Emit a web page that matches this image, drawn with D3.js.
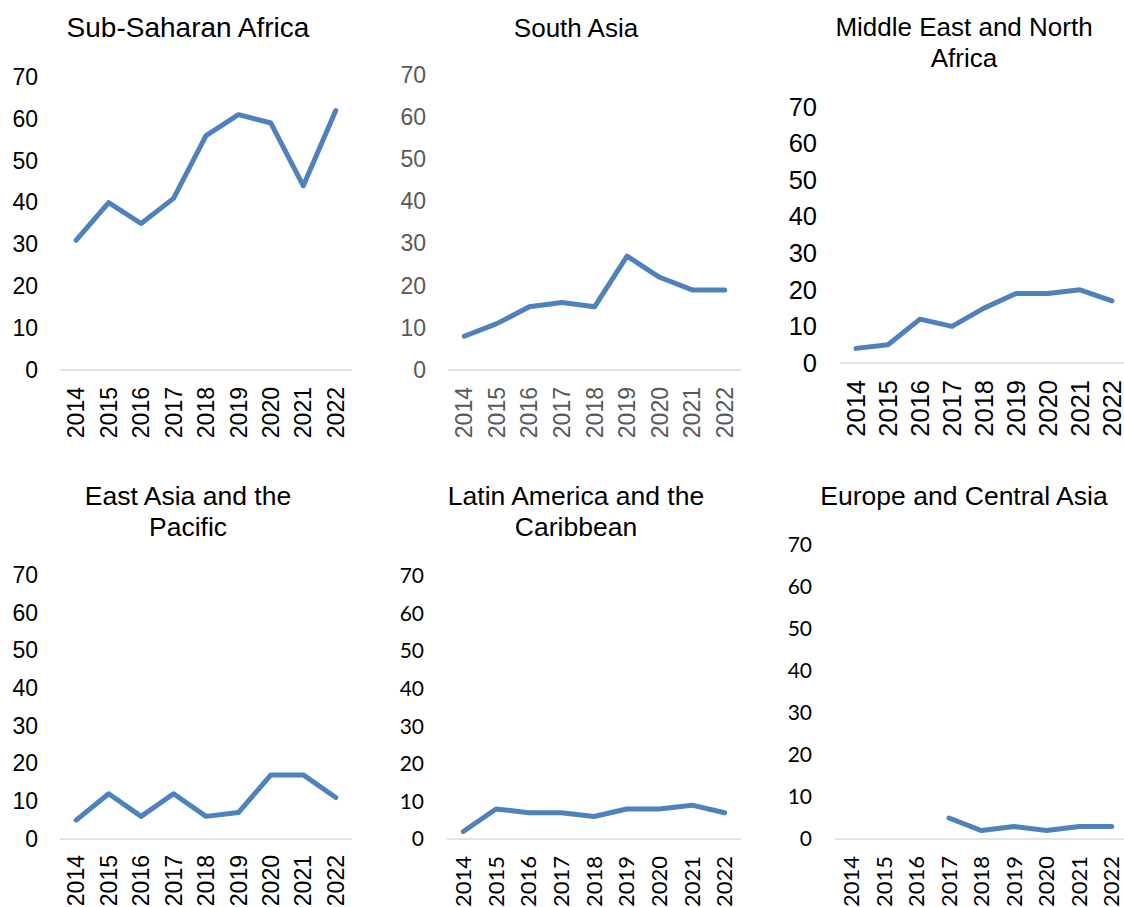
<!DOCTYPE html>
<html>
<head>
<meta charset="utf-8">
<script src="https://cdn.jsdelivr.net/npm/d3@7"></script>
<style>
  body { margin: 0; background: #fff; }
  svg { display: block; }
</style>
</head>
<body>
<script>
// Data
var years = ['2014', '2015', '2016', '2017', '2018', '2019', '2020', '2021', '2022'];
var yTicks = [0, 10, 20, 30, 40, 50, 60, 70];

var subSaharanAfrica   = [31, 40, 35, 41, 56, 61, 59, 44, 62];
var southAsia          = [8, 11, 15, 16, 15, 27, 22, 19, 19];
var middleEastNAfrica  = [4, 5, 12, 10, 15, 19, 19, 20, 17];
var eastAsiaPacific    = [5, 12, 6, 12, 6, 7, 17, 17, 11];
var latinAmericaCarib  = [2, 8, 7, 7, 6, 8, 8, 9, 7];
var europeCentralAsia  = [null, null, null, 5, 2, 3, 2, 3, 3];

var regions = [
    { title: ['Sub-Saharan Africa'], values: subSaharanAfrica },
    { title: ['South Asia'], values: southAsia },
    { title: ['Middle East and North', 'Africa'], values: middleEastNAfrica },
    { title: ['East Asia and the', 'Pacific'], values: eastAsiaPacific },
    { title: ['Latin America and the', 'Caribbean'], values: latinAmericaCarib },
    { title: ['Europe and Central Asia'], values: europeCentralAsia }
];

// Layout of each panel (they are not all alike)
var arial = '"Liberation Sans", Arial, sans-serif',
    calibri = 'Lato, "Open Sans", sans-serif';

var layout = [
    { titleX: 188, titleY: 37, titleSize: 28, left: 60,  right: 352,  zeroY: 370, topY: 77,  tickX: 38,  tickSize: 23, tickFont: arial,   tickColor: '#000', xLabY: 387 },
    { titleX: 576, titleY: 37, titleSize: 26, left: 448, right: 741,  zeroY: 370, topY: 75,  tickX: 426, tickSize: 23, tickFont: arial,   tickColor: '#595959', xLabY: 387 },
    { titleX: 964, titleY: 36, titleSize: 26, left: 840, right: 1128, zeroY: 363, topY: 107, tickX: 817, tickSize: 25.5, tickFont: arial, tickColor: '#000', xLabY: 380 },
    { titleX: 188, titleY: 505, titleSize: 26.5, left: 60, right: 352, zeroY: 839, topY: 575, tickX: 38, tickSize: 23, tickFont: arial, tickColor: '#000', xLabY: 855 },
    { titleX: 576, titleY: 505, titleSize: 26.5, left: 447, right: 741, zeroY: 839, topY: 576, tickX: 424, tickSize: 21, tickFont: calibri, tickColor: '#000', xLabY: 856 },
    { titleX: 964, titleY: 505, titleSize: 26.5, left: 835, right: 1128, zeroY: 839, topY: 545, tickX: 812, tickSize: 21, tickFont: calibri, tickColor: '#000', xLabY: 856 }
];

var lineColor = '#4f81bd';

var svg = d3.select('body').append('svg')
    .attr('width', 1124)
    .attr('height', 907);

regions.forEach(function(r, i) {
    var L = layout[i];
    var g = svg.append('g').attr('class', 'panel');

    var x = d3.scaleBand().domain(years).range([L.left, L.right]).padding(0);
    var y = d3.scaleLinear().domain([0, 70]).range([L.zeroY, L.topY]);

    // Title
    var t = g.append('text')
        .attr('x', L.titleX)
        .attr('y', L.titleY)
        .attr('text-anchor', 'middle')
        .style('font-family', arial)
        .style('font-size', L.titleSize + 'px')
        .style('fill', '#000');
    r.title.forEach(function(line, k) {
        t.append('tspan')
            .attr('x', L.titleX)
            .attr('dy', k === 0 ? 0 : '1.18em')
            .text(line);
    });

    // Y axis (labels only)
    var yAxis = g.append('g')
        .attr('transform', 'translate(' + L.tickX + ',0)')
        .call(d3.axisLeft(y).tickValues(yTicks).tickSize(0).tickPadding(0));
    yAxis.select('.domain').remove();
    yAxis.selectAll('text')
        .style('font-family', L.tickFont)
        .style('font-size', L.tickSize + 'px')
        .style('fill', L.tickColor);

    // Baseline
    g.append('line')
        .attr('x1', L.left).attr('x2', L.right)
        .attr('y1', y(0)).attr('y2', y(0))
        .style('stroke', '#d9d9d9')
        .style('stroke-width', 1.5);

    // X axis (rotated labels)
    var xAxis = g.append('g')
        .attr('transform', 'translate(0,' + L.xLabY + ')')
        .call(d3.axisBottom(x).tickSize(0).tickPadding(0));
    xAxis.select('.domain').remove();
    xAxis.selectAll('text')
        .attr('x', 0)
        .attr('y', 0)
        .attr('dy', '0.35em')
        .attr('transform', 'rotate(-90)')
        .style('text-anchor', 'end')
        .style('font-family', L.tickFont)
        .style('font-size', (L.tickSize + (L.tickFont === calibri ? 1 : 0)) + 'px')
        .style('fill', L.tickColor);

    // Line
    var pts = years.map(function(yr, j) { return { year: yr, value: r.values[j] }; });
    var line = d3.line()
        .defined(function(d) { return d.value !== null; })
        .x(function(d) { return x(d.year) + x.bandwidth() / 2; })
        .y(function(d) { return y(d.value); });

    g.append('path')
        .datum(pts)
        .attr('d', line)
        .style('fill', 'none')
        .style('stroke', lineColor)
        .style('stroke-width', 5)
        .style('stroke-linejoin', 'round')
        .style('stroke-linecap', 'round');
});
</script>
</body>
</html>
